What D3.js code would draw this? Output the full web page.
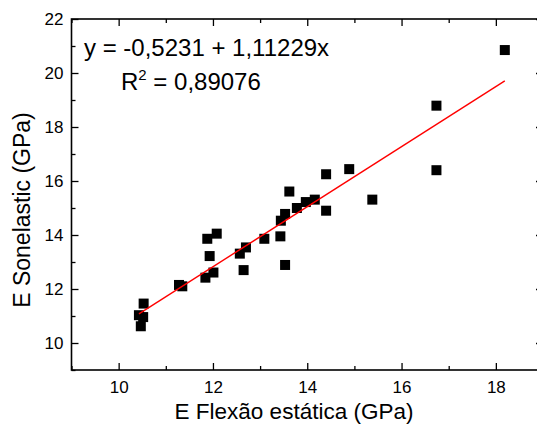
<!DOCTYPE html>
<html>
<head>
<meta charset="utf-8">
<script src="https://cdn.jsdelivr.net/npm/d3@7"></script>
<style>
  body { margin: 0; background: #fff; }
  svg { display: block; font-family: Arial, "Liberation Sans", sans-serif; }
</style>
</head>
<body>
<svg width="537" height="429"></svg>
<script>
// E Flexão estática (GPa) vs E Sonelastic (GPa)
var flexao = [10.53, 10.43, 10.52, 10.47, 11.28, 11.35, 11.84, 12.01, 11.88, 12.08,
              11.93, 12.57, 12.70, 12.65, 13.09, 13.43, 13.53, 13.44, 13.53, 13.62,
              13.78, 13.97, 14.16, 14.40, 14.40, 14.89, 15.38, 16.74, 16.74, 18.19];
var sonelastic = [11.46, 11.03, 10.96, 10.62, 12.15, 12.10, 12.42, 12.61, 13.86, 14.05,
                  13.22, 13.31, 13.54, 12.70, 13.86, 13.95, 12.89, 14.53, 14.78, 15.61,
                  15.00, 15.22, 15.31, 16.25, 14.90, 16.44, 15.31, 18.79, 16.40, 20.85];
var intercept = -0.5231, slope = 1.11229;
var xMajor = [10, 12, 14, 16, 18], xMinor = [9, 11, 13, 15, 17, 19];
var yMajor = [10, 12, 14, 16, 18, 20, 22], yMinor = [9, 11, 13, 15, 17, 19, 21];

var svg = d3.select("svg"),
    mLeft = 71.5, mRight = 543, mTop = 19, mBottom = 370;

var x = d3.scaleLinear().domain([9, 19]).range([mLeft, mRight]);
var y = d3.scaleLinear().domain([9, 22]).range([mBottom, mTop]);

var fmt = function(d) { return d; };

function ticks(makeAxis, tr, major, minor, labels, pad) {
  var g = svg.append("g").attr("transform", tr);
  g.call(makeAxis().tickValues(major).tickSizeInner(-7).tickSizeOuter(0)
    .tickPadding(pad).tickFormat(labels ? fmt : ""));
  var g2 = svg.append("g").attr("transform", tr);
  g2.call(makeAxis().tickValues(minor).tickSizeInner(-4).tickSizeOuter(0).tickFormat(""));
  [g, g2].forEach(function(s) {
    s.select(".domain").remove();
    s.selectAll("line").attr("stroke", "#000").attr("stroke-width", 1.3);
    s.selectAll("text").attr("font-size", 17).attr("fill", "#000")
      .attr("font-family", "Arial, 'Liberation Sans', sans-serif");
  });
}

ticks(function() { return d3.axisBottom(x); }, "translate(0," + mBottom + ")", xMajor, xMinor, true, 11);
ticks(function() { return d3.axisTop(x); }, "translate(0," + mTop + ")", xMajor, xMinor, false, 3);
ticks(function() { return d3.axisLeft(y); }, "translate(" + mLeft + ",0)", yMajor, yMinor, true, 8);
ticks(function() { return d3.axisRight(y); }, "translate(" + mRight + ",0)", yMajor, yMinor, false, 3);

svg.append("rect")
  .attr("x", mLeft).attr("y", mTop)
  .attr("width", mRight - mLeft).attr("height", mBottom - mTop)
  .attr("fill", "none").attr("stroke", "#000").attr("stroke-width", 1.6);

// points
var pts = flexao.map(function(d, i) { return [d, sonelastic[i]]; });
svg.append("g").selectAll("rect")
  .data(pts)
  .enter().append("rect")
  .attr("x", function(d) { return x(d[0]) - 5; })
  .attr("y", function(d) { return y(d[1]) - 5; })
  .attr("width", 10).attr("height", 10)
  .attr("fill", "#000");

// fit line
var x0 = d3.min(flexao), x1 = d3.max(flexao);
svg.append("line")
  .attr("x1", x(x0)).attr("y1", y(intercept + slope * x0))
  .attr("x2", x(x1)).attr("y2", y(intercept + slope * x1))
  .attr("stroke", "#ff0000").attr("stroke-width", 1.4);

// equation
svg.append("text")
  .attr("x", 84).attr("y", 56)
  .attr("font-size", 24)
  .text("y = -0,5231 + 1,11229x");

var r2 = svg.append("text")
  .attr("x", 121).attr("y", 90)
  .attr("font-size", 24);
r2.append("tspan").text("R");
r2.append("tspan").attr("dy", -10).attr("font-size", 15).text("2");
r2.append("tspan").attr("dy", 10).text(" = 0,89076");

// axis titles
svg.append("text")
  .attr("x", 294).attr("y", 419)
  .attr("text-anchor", "middle")
  .attr("font-size", 22.5)
  .text("E Flexão estática (GPa)");

svg.append("text")
  .attr("transform", "translate(30,210) rotate(-90)")
  .attr("text-anchor", "middle")
  .attr("font-size", 23)
  .text("E Sonelastic (GPa)");
</script>
</body>
</html>
